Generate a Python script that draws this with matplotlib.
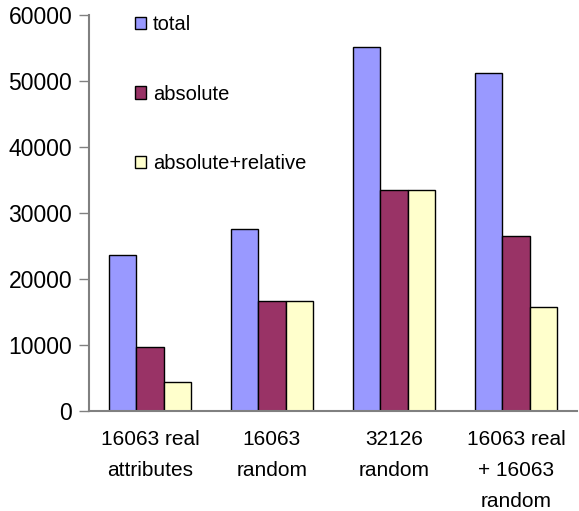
import numpy as np
import matplotlib.pyplot as plt

plt.rcParams["font.family"] = ["Liberation Sans", "DejaVu Sans"]

categories = ["16063 real\nattributes", "16063\nrandom", "32126\nrandom", "16063 real\n+ 16063\nrandom"]
series = ["total", "absolute", "absolute+relative"]
total = [23600, 27600, 55100, 51200]
absolute = [9650, 16700, 33450, 26500]
abs_rel = [4450, 16700, 33450, 15750]
colors = ["#9999FF", "#993366", "#FFFFCC"]

fig = plt.figure(figsize=(5.79, 5.11), dpi=100)
ax = fig.add_axes([0.1537, 0.1957, 0.8428, 0.7749])

x = np.arange(len(categories))
w = 0.224
for i, (vals, col, lab) in enumerate(zip([total, absolute, abs_rel], colors, series)):
    ax.bar(x + (i - 1) * w, vals, width=w, color=col, edgecolor="black",
           linewidth=1.0, label=lab)

ax.set_xlim(-0.5, len(categories) - 0.5)
ax.set_ylim(0, 60000)
ax.set_yticks(range(0, 60001, 10000))
ax.set_xticks(x)
ax.set_xticklabels(categories, fontsize=15, linespacing=1.78)
ax.tick_params(axis="y", labelsize=16.5, length=7, width=1, color="#808080", pad=5)
ax.tick_params(axis="x", length=0, pad=14)

for s in ["top", "right"]:
    ax.spines[s].set_visible(False)
for s in ["left", "bottom"]:
    ax.spines[s].set_color("#808080")
    ax.spines[s].set_linewidth(1.5)

ax.legend(loc="upper left", bbox_to_anchor=(0.057, 1.045), frameon=False,
          fontsize=14.5, handlelength=0.55, handleheight=0.55, handletextpad=0.35,
          labelspacing=2.5)

plt.savefig("out.png", dpi=100)
